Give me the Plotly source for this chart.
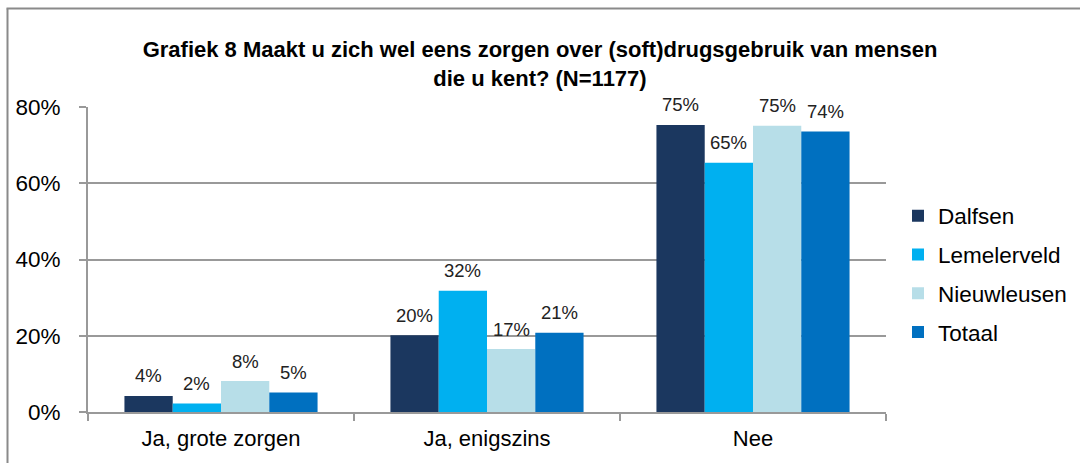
import plotly.graph_objects as go

categories = ["Ja, grote zorgen", "Ja, enigszins", "Nee"]
series_names = ["Dalfsen", "Lemelerveld", "Nieuwleusen", "Totaal"]
dalfsen = [4.2, 20.1, 75.3]
lemelerveld = [2.2, 31.8, 65.4]
nieuwleusen = [8.1, 16.5, 75.1]
totaal = [5.1, 20.8, 73.6]
label_dalfsen = ["4%", "20%", "75%"]
label_lemelerveld = ["2%", "32%", "65%"]
label_nieuwleusen = ["8%", "17%", "75%"]
label_totaal = ["5%", "21%", "74%"]
colors = ["#1B375F", "#00B0F0", "#B7DEE8", "#0070C0"]
y_ticks = [0, 20, 40, 60, 80]
y_ticklabels = ["0%", "20%", "40%", "60%", "80%"]

values = [dalfsen, lemelerveld, nieuwleusen, totaal]
labels = [label_dalfsen, label_lemelerveld, label_nieuwleusen, label_totaal]

W, H = 1080, 463
ML, MR, MT, MB = 88, 194, 107, 51
BARGAP = 0.274
plot_w = W - ML - MR
plot_h = H - MT - MB
bar_px = plot_w / len(categories) * (1 - BARGAP) / len(series_names)

FONT = "Liberation Sans, Arial, sans-serif"

fig = go.Figure()
for i, (name, vals, col) in enumerate(zip(series_names, values, colors)):
    fig.add_trace(go.Bar(
        x=categories, y=vals, name=name, marker_color=col,
        marker_line_width=0, legendgroup=name,
    ))

annotations = []
for i, (vals, labs) in enumerate(zip(values, labels)):
    for cat, v, lab in zip(categories, vals, labs):
        annotations.append(dict(
            x=cat, y=v, xref="x", yref="y", text=lab, showarrow=False,
            xshift=(i - (len(series_names) - 1) / 2) * bar_px,
            yshift=20, yanchor="middle",
            font=dict(family=FONT, size=18.5, color="#222222"),
        ))

def px_to_paper_x(px):
    return (px - ML) / plot_w

def px_to_paper_y(py):
    return (H - MB - py) / plot_h

shapes = [
    dict(type="line", xref="paper", yref="paper",
         x0=px_to_paper_x(7.5), x1=px_to_paper_x(7.5),
         y0=px_to_paper_y(470), y1=px_to_paper_y(8.5),
         line=dict(color="#8a8a8a", width=2)),
    dict(type="line", xref="paper", yref="paper",
         x0=px_to_paper_x(6.5), x1=px_to_paper_x(1090),
         y0=px_to_paper_y(8.5), y1=px_to_paper_y(8.5),
         line=dict(color="#8a8a8a", width=2)),
]

fig.update_layout(
    width=W, height=H,
    margin=dict(l=ML, r=MR, t=MT, b=MB, autoexpand=False),
    paper_bgcolor="white", plot_bgcolor="white",
    barmode="group", bargap=BARGAP, bargroupgap=0,
    title=dict(
        text="<b>Grafiek 8 Maakt u zich wel eens zorgen over (soft)drugsgebruik van mensen<br>die u kent? (N=1177)</b>",
        x=0.5, xref="container", xanchor="center",
        y=1 - 57 / H, yref="container", yanchor="middle",
        font=dict(family=FONT, size=22, color="#000000"),
    ),
    font=dict(family=FONT, size=22, color="#000000"),
    legend=dict(
        x=px_to_paper_x(898), xanchor="left",
        y=px_to_paper_y(274), yanchor="middle",
        font=dict(family=FONT, size=22.5, color="#000000"),
        tracegroupgap=6.5, itemwidth=30,
        bgcolor="rgba(0,0,0,0)",
    ),
    annotations=annotations,
    shapes=shapes,
)

fig.update_xaxes(
    showline=True, linecolor="#999999", linewidth=2,
    ticks="outside", tickson="boundaries", ticklen=7, tickcolor="#999999", tickwidth=2,
    showgrid=False, automargin=False,
    tickfont=dict(family=FONT, size=22, color="#000000"),
    ticklabelstandoff=6,
)
fig.update_yaxes(
    range=[0, 80], tickvals=y_ticks, ticktext=y_ticklabels,
    showline=True, linecolor="#999999", linewidth=2,
    ticks="outside", ticklen=7, tickcolor="#999999", tickwidth=2,
    showgrid=True, gridcolor="#999999", gridwidth=2,
    zeroline=False, automargin=False,
    tickfont=dict(family=FONT, size=22.5, color="#000000"),
    ticklabelstandoff=14,
)

fig.write_html(
    "out.html",
    config={"displayModeBar": False},
    post_script="document.body.style.margin='0';document.body.style.overflow='hidden';",
)
